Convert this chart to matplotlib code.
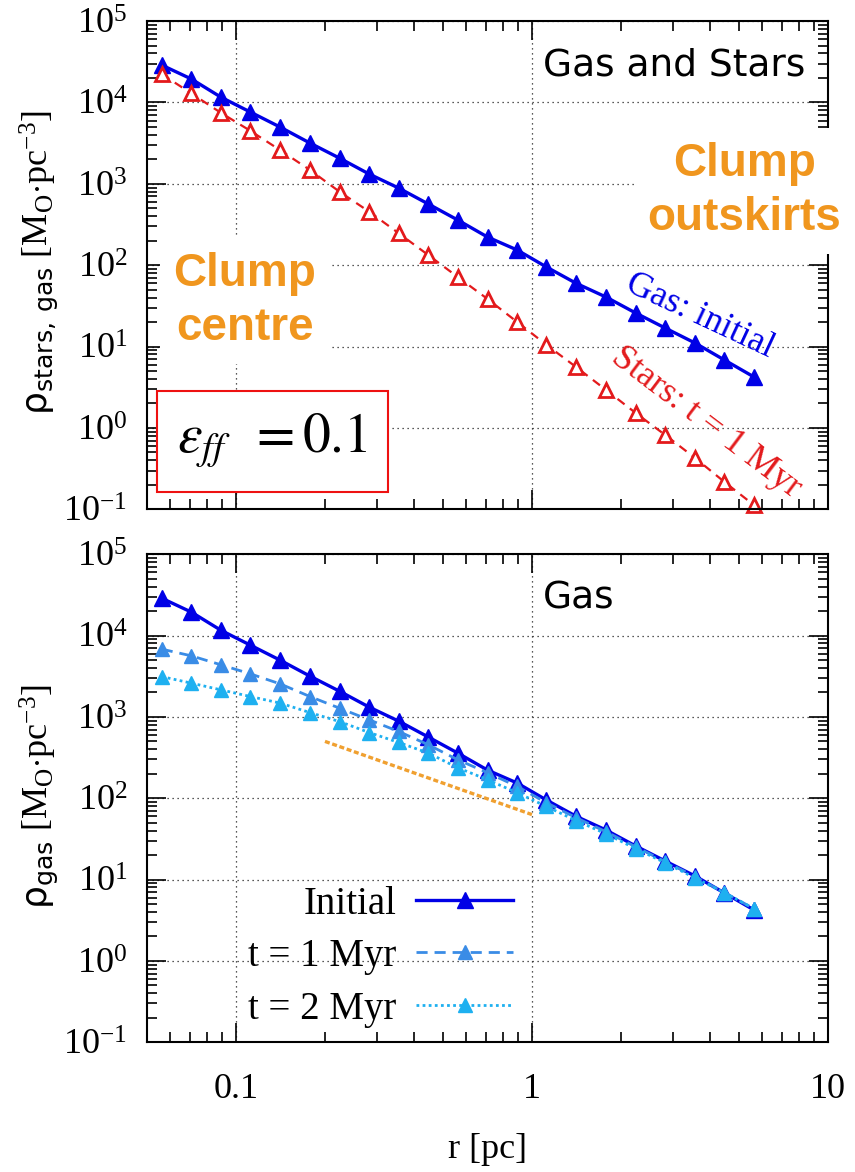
import matplotlib
matplotlib.use("Agg")
from matplotlib import pyplot as plt
from matplotlib import ticker
from matplotlib.lines import Line2D
from matplotlib.patches import Rectangle

plt.rcParams['font.family'] = 'Liberation Serif'
plt.rcParams['mathtext.fontset'] = 'custom'
plt.rcParams['mathtext.rm'] = 'Liberation Serif'
plt.rcParams['mathtext.it'] = 'Liberation Serif:italic'
plt.rcParams['mathtext.sf'] = 'DejaVu Sans'

# radial bins [pc]
r_pc = [0.0562, 0.0708, 0.0891, 0.112, 0.141, 0.178, 0.224, 0.282, 0.355, 0.447,
        0.562, 0.708, 0.891, 1.12, 1.41, 1.78, 2.24, 2.82, 3.55, 4.47, 5.62]

# densities [Msun pc^-3]
rho_gas_init = [28800, 19400, 11600, 7620, 4990, 3170, 2070, 1320, 887, 565,
                359, 222, 154, 95, 60, 40.6, 25.9, 16.9, 11.1, 6.84, 4.24]
rho_stars_1myr = [22300, 12900, 7450, 4480, 2600, 1480, 800, 455, 247, 133,
                  71.6, 38.5, 20.1, 10.5, 5.61, 2.93, 1.53, 0.82, 0.43, 0.217, 0.113]
rho_gas_1myr = [6810, 5630, 4370, 3380, 2550, 1780, 1280, 921, 662, 454,
                297, 206, 140, 88, 57.6, 38.7, 25.3, 16.6, 10.9, 6.9, 4.4]
rho_gas_2myr = [3130, 2600, 2150, 1780, 1480, 1130, 877, 643, 485, 359,
                237, 169, 117, 79.3, 53, 36.6, 24, 16.1, 10.5, 6.9, 4.4]

# reference slope segment
r_ref = [0.2, 1.0]
rho_ref = [500, 63]

BLUE = '#0000e6'
RED = '#e31a1c'
MID = '#3a8ce6'
CYAN = '#1eb0f0'
ORANGE = '#f0961e'

fig = plt.figure(figsize=(8.55, 11.72), dpi=100)
ax1 = fig.add_axes([0.1716, 0.5654, 0.7968, 0.4166])
ax2 = fig.add_axes([0.1716, 0.1107, 0.7968, 0.4164])

for ax in (ax1, ax2):
    ax.set_xscale('log')
    ax.set_yscale('log')
    ax.set_xlim(0.05, 10)
    ax.set_ylim(0.1, 1e5)
    ax.grid(True, which='major', color='#222222', linestyle=(0, (1, 3)), linewidth=0.9)
    ax.tick_params(which='both', direction='in', top=True, right=True, width=1.2,
                   labelsize=26)
    ax.tick_params(which='major', length=14, pad=14)
    ax.tick_params(which='minor', length=7)
    ax.tick_params(axis='x', which='major', pad=22)
    ax.yaxis.set_major_locator(ticker.LogLocator(base=10, numticks=10))
    ax.yaxis.set_minor_locator(ticker.LogLocator(base=10, subs=range(2, 10), numticks=20))
    ax.yaxis.set_minor_formatter(ticker.NullFormatter())
    ax.xaxis.set_minor_formatter(ticker.NullFormatter())
    for s in ax.spines.values():
        s.set_linewidth(1.5)

ax1.xaxis.set_major_formatter(ticker.NullFormatter())
ax2.xaxis.set_major_formatter(ticker.FuncFormatter(lambda v, p: f'{v:g}'))

# top panel: gas and stars
ax1.plot(r_pc, rho_gas_init, color=BLUE, lw=2.4, marker='^', ms=11)
ax1.plot(r_pc, rho_stars_1myr, color=RED, lw=1.6, dashes=(4, 3), marker='^', ms=10,
         mfc='white', mec=RED, mew=2.0, clip_on=False)

ax1.text(0.582, 0.91, 'Gas and Stars', transform=ax1.transAxes, family='DejaVu Sans',
         fontsize=27, ha='left', va='center')
ax1.text(0.812, 0.396, 'Gas: initial', transform=ax1.transAxes, color=BLUE,
         fontsize=26, rotation=-25, ha='center', va='center')
ax1.text(0.822, 0.177, 'Stars: t = 1 Myr', transform=ax1.transAxes, color=RED,
         fontsize=26, rotation=-37, ha='center', va='center')

ax1.text(0.1443, 0.427, 'Clump\ncentre', transform=ax1.transAxes, color=ORANGE,
         family='Liberation Sans', weight='bold', fontsize=33, ha='center', va='center',
         linespacing=1.3, zorder=5,
         bbox=dict(boxstyle='square,pad=0.3', facecolor='white', edgecolor='none'))
ax1.text(0.877, 0.652, 'Clump\noutskirts', transform=ax1.transAxes, color=ORANGE,
         family='Liberation Sans', weight='bold', fontsize=33, ha='center', va='center',
         linespacing=1.3, zorder=5,
         bbox=dict(boxstyle='square,pad=0.3', facecolor='white', edgecolor='none'))

ax1.add_patch(Rectangle((0.0156, 0.0348), 0.3381, 0.2076, transform=ax1.transAxes,
                        facecolor='white', edgecolor='#ee1111', lw=1.5, zorder=5))
ax1.text(0.184, 0.14, r'$\varepsilon_{ff}\;\; = 0.1$', transform=ax1.transAxes,
         math_fontfamily='stix', fontsize=40, ha='center', va='center', zorder=6)

# bottom panel: gas evolution
ax2.plot(r_ref, rho_ref, color='#f0a030', lw=2.4, dashes=(1.5, 0.8))
ax2.plot(r_pc, rho_gas_init, color=BLUE, lw=2.4, marker='^', ms=11)
ax2.plot(r_pc, rho_gas_1myr, color=MID, lw=2.0, dashes=(4, 2.5), marker='^', ms=10)
ax2.plot(r_pc, rho_gas_2myr, color=CYAN, lw=2.0, dashes=(1, 1.2), marker='^', ms=10)

ax2.text(0.582, 0.91, 'Gas', transform=ax2.transAxes, family='DejaVu Sans',
         fontsize=27, ha='left', va='center')

handles = [Line2D([], [], color=BLUE, lw=2.4, marker='^', ms=11),
           Line2D([], [], color=MID, lw=2.0, dashes=(4, 2.5), marker='^', ms=10),
           Line2D([], [], color=CYAN, lw=2.0, dashes=(1, 1.2), marker='^', ms=10)]
ax2.legend(handles, ['Initial', 't = 1 Myr', 't = 2 Myr'], loc='lower right',
           bbox_to_anchor=(0.538, 0.03), markerfirst=False, frameon=False,
           fontsize=28, handlelength=2.5, handletextpad=0.5, labelspacing=0.4,
           numpoints=1, borderpad=0, borderaxespad=0)

ax2.set_xlabel('r [pc]', fontsize=26)
ax2.xaxis.set_label_coords(0.5, -0.185)

fig.text(0.047, 1 - 263 / 1172, r'$\mathsf{\rho_{stars,\ gas}}$ [M$_\mathrm{O}$$\cdot$pc$^{-3}$]',
         rotation=90, fontsize=26, ha='center', va='center')
fig.text(0.047, 1 - 797 / 1172, r'$\mathsf{\rho_{gas}}$ [M$_\mathrm{O}$$\cdot$pc$^{-3}$]',
         rotation=90, fontsize=26, ha='center', va='center')

fig.savefig('out.png', dpi=100)
